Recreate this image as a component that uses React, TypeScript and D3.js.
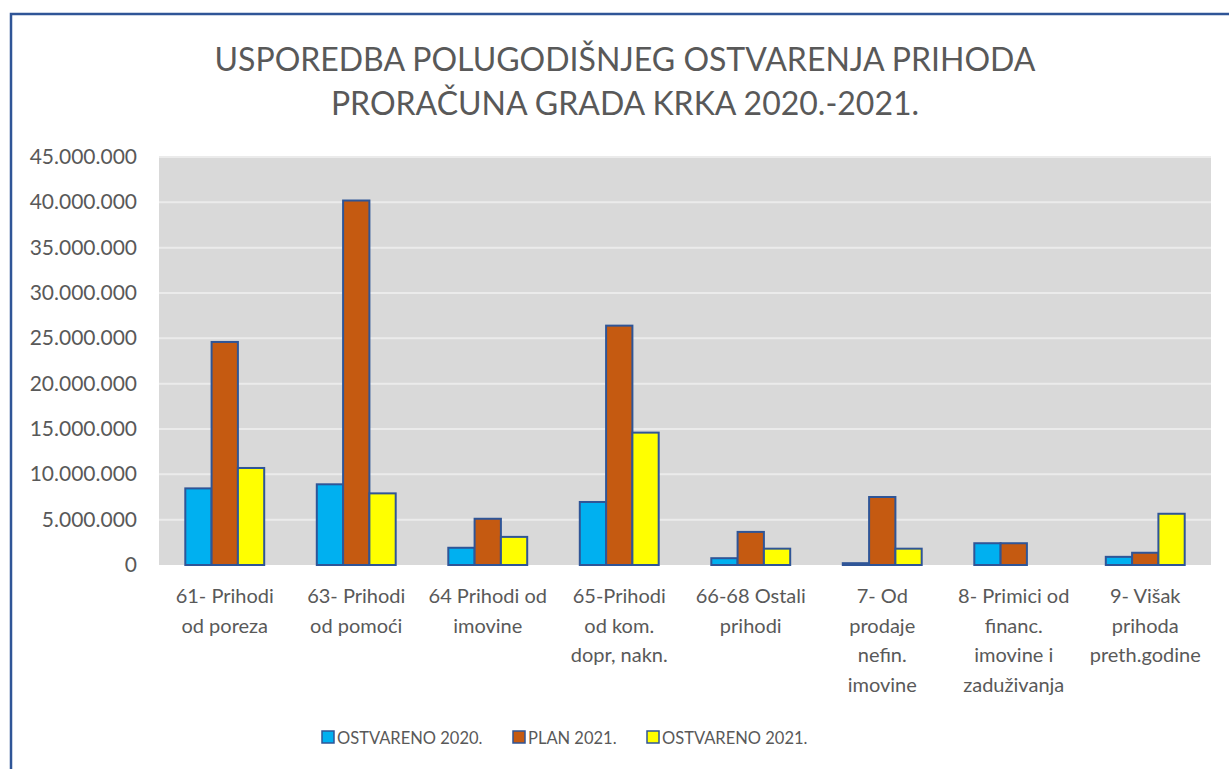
import React, { useEffect, useRef } from 'react'
import * as d3 from 'd3'

const categories = [
  ['61- Prihodi', 'od poreza'],
  ['63- Prihodi', 'od pomoći'],
  ['64 Prihodi od', 'imovine'],
  ['65-Prihodi', 'od kom.', 'dopr, nakn.'],
  ['66-68 Ostali', 'prihodi'],
  ['7- Od', 'prodaje', 'nefin.', 'imovine'],
  ['8- Primici od', 'financ.', 'imovine i', 'zaduživanja'],
  ['9- Višak', 'prihoda', 'preth.godine'],
]
const seriesNames = ['OSTVARENO 2020.', 'PLAN 2021.', 'OSTVARENO 2021.']
const ostvareno2020 = [8450000, 8900000, 1900000, 6950000, 750000, 200000, 2400000, 900000]
const plan2021 = [24600000, 40200000, 5100000, 26400000, 3650000, 7500000, 2400000, 1350000]
const ostvareno2021 = [10700000, 7900000, 3100000, 14600000, 1800000, 1800000, 0, 5650000]
const yTicks = [0, 5000000, 10000000, 15000000, 20000000, 25000000, 30000000, 35000000, 40000000, 45000000]
const titleLines = ['USPOREDBA POLUGODIŠNJEG OSTVARENJA PRIHODA', 'PRORAČUNA GRADA KRKA 2020.-2021.']
const colors = ['#00B0F0', '#C55A11', '#FFFF00']

const W = 1229
const H = 769
const font = 'Lato, "Open Sans", sans-serif'
const textColor = '#595959'

export default function App() {
  const ref = useRef<SVGSVGElement>(null)

  useEffect(() => {
    document.body.style.margin = '0'
    const svg = d3.select(ref.current)
    svg.selectAll('*').remove()

    const plot = { left: 159, top: 157, right: 1211, bottom: 565 }
    const values = [ostvareno2020, plan2021, ostvareno2021]

    svg.append('rect').attr('width', W).attr('height', H).attr('fill', '#fff')
    svg.append('rect').attr('x', 11).attr('y', 14).attr('width', W + 20).attr('height', H + 20)
      .attr('fill', 'none').attr('stroke', '#2F5597').attr('stroke-width', 2.5)

    // title
    svg.selectAll('.title').data(titleLines).join('text').attr('class', 'title')
      .attr('x', 625).attr('y', (d, i) => 71 + i * 44)
      .attr('text-anchor', 'middle').attr('font-family', font).attr('font-size', 32)
      .attr('fill', textColor).text(d => d)

    const x = d3.scaleBand<number>().domain(d3.range(categories.length))
      .range([plot.left, plot.right]).paddingInner(0.4).paddingOuter(0.2)
    const xs = d3.scaleBand<number>().domain([0, 1, 2]).range([0, x.bandwidth()])
    const y = d3.scaleLinear().domain([0, 45000000]).range([plot.bottom, plot.top])

    svg.append('rect').attr('x', plot.left).attr('y', plot.top)
      .attr('width', plot.right - plot.left).attr('height', plot.bottom - plot.top).attr('fill', '#D9D9D9')

    svg.selectAll('.grid').data(yTicks.slice(1)).join('line').attr('class', 'grid')
      .attr('x1', plot.left).attr('x2', plot.right)
      .attr('y1', d => y(d)).attr('y2', d => y(d))
      .attr('stroke', '#EBEBEB').attr('stroke-width', 2)

    const fmt = (v: number) => d3.format(',')(v).replace(/,/g, '.')
    svg.selectAll('.ytick').data(yTicks).join('text').attr('class', 'ytick')
      .attr('x', 137).attr('y', d => y(d) + 7)
      .attr('text-anchor', 'end').attr('font-family', font).attr('font-size', 21)
      .attr('fill', textColor).text(d => fmt(d))

    const groups = svg.selectAll('.grp').data(categories.map((c, i) => i)).join('g').attr('class', 'grp')
      .attr('transform', i => `translate(${x(i)},0)`)
    groups.selectAll('rect').data(i => values.map((s, k) => ({ k, v: s[i] })).filter(d => d.v > 0)).join('rect')
      .attr('x', d => xs(d.k)!).attr('width', xs.bandwidth())
      .attr('y', d => y(d.v)).attr('height', d => plot.bottom - y(d.v))
      .attr('fill', d => colors[d.k]).attr('stroke', '#2F5597').attr('stroke-width', 2)

    // x labels
    const lab = svg.selectAll('.xlab').data(categories).join('text').attr('class', 'xlab')
      .attr('text-anchor', 'middle').attr('font-family', font).attr('font-size', 20).attr('fill', textColor)
    lab.selectAll('tspan').data((d, i) => d.map(t => ({ t, i }))).join('tspan')
      .attr('x', d => x(d.i)! + x.bandwidth() / 2).attr('y', (d, j) => 603 + j * 29.5).text(d => d.t)

    // legend
    const legX = [322, 513, 647]
    const leg = svg.selectAll('.leg').data(seriesNames).join('g').attr('class', 'leg')
      .attr('transform', (d, i) => `translate(${legX[i]},731)`)
    leg.append('rect').attr('width', 12).attr('height', 12)
      .attr('fill', (d, i) => colors[i]).attr('stroke', '#2F5597').attr('stroke-width', 1.5)
    leg.append('text').attr('x', 15).attr('y', 12.5).attr('font-family', font).attr('font-size', 16.5)
      .attr('fill', textColor).text(d => d)
  }, [])

  return <svg ref={ref} width={W} height={H} style={{ display: 'block' }} />
}
